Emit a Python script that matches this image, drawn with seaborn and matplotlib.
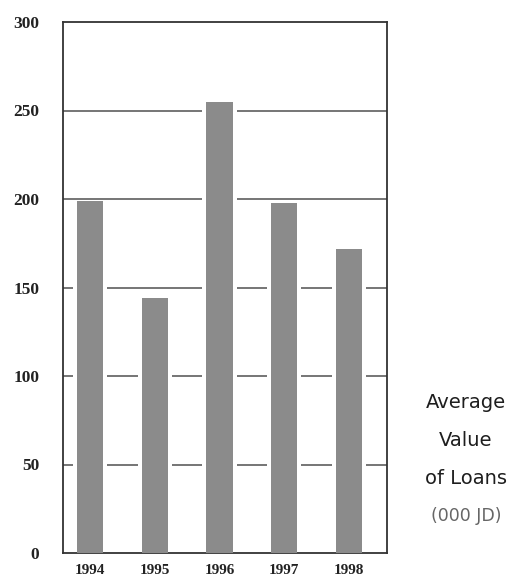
import matplotlib
matplotlib.use("Agg")
import matplotlib.pyplot as plt
import seaborn as sns
import pandas as pd

# Average value of loans per year (thousand JD)
years = ["1994", "1995", "1996", "1997", "1998"]
avg_loans = [199, 144, 255, 198, 172]
y_ticks = [0, 50, 100, 150, 200, 250, 300]
side_lines = ["Average", "Value", "of Loans"]
unit_label = "(000 JD)"

df = pd.DataFrame({"year": years, "value": avg_loans})

sns.set_theme(style="white")
plt.rcParams["font.family"] = ["DejaVu Sans"]

fig = plt.figure(figsize=(5.28, 5.82), dpi=100)
ax = fig.add_axes([63 / 528, 29 / 582, 324 / 528, 531 / 582])

# white halo behind each bar so the grid lines stop short of the bars
sns.barplot(data=df, x="year", y="value", color="white", width=0.53,
            saturation=1, ax=ax, zorder=2, linewidth=0)
sns.barplot(data=df, x="year", y="value", color="#8b8b8b", width=0.41,
            saturation=1, ax=ax, zorder=3, linewidth=0)

ax.set_xlim(-0.42, 4.59)
ax.set_ylim(0, 300)
ax.set_yticks(y_ticks)
ax.set_xlabel("")
ax.set_ylabel("")

for y in y_ticks[1:-1]:
    ax.axhline(y, color="#6a6a6a", lw=1.3, zorder=1)

for s in ax.spines.values():
    s.set_color("#333333")
    s.set_linewidth(1.3)

ax.tick_params(axis="both", length=0)
ax.tick_params(axis="y", pad=17)
ax.tick_params(axis="x", pad=8)
for lab in ax.get_yticklabels():
    lab.set_fontfamily("Liberation Serif")
    lab.set_fontweight("bold")
    lab.set_fontsize(12.5)
    lab.set_color("#222222")
for lab in ax.get_xticklabels():
    lab.set_fontfamily("Liberation Serif")
    lab.set_fontweight("bold")
    lab.set_fontsize(11)
    lab.set_color("#222222")

ys = [402, 440, 478]
for txt, yp in zip(side_lines, ys):
    fig.text(466 / 528, 1 - yp / 582, txt, ha="center", va="center",
             fontsize=14, color="#1e1e1e", fontfamily="DejaVu Sans")
fig.text(466 / 528, 1 - 516 / 582, unit_label, ha="center", va="center",
         fontsize=12.5, color="#666666", fontfamily="DejaVu Sans")

fig.savefig("out.png", dpi=100)
